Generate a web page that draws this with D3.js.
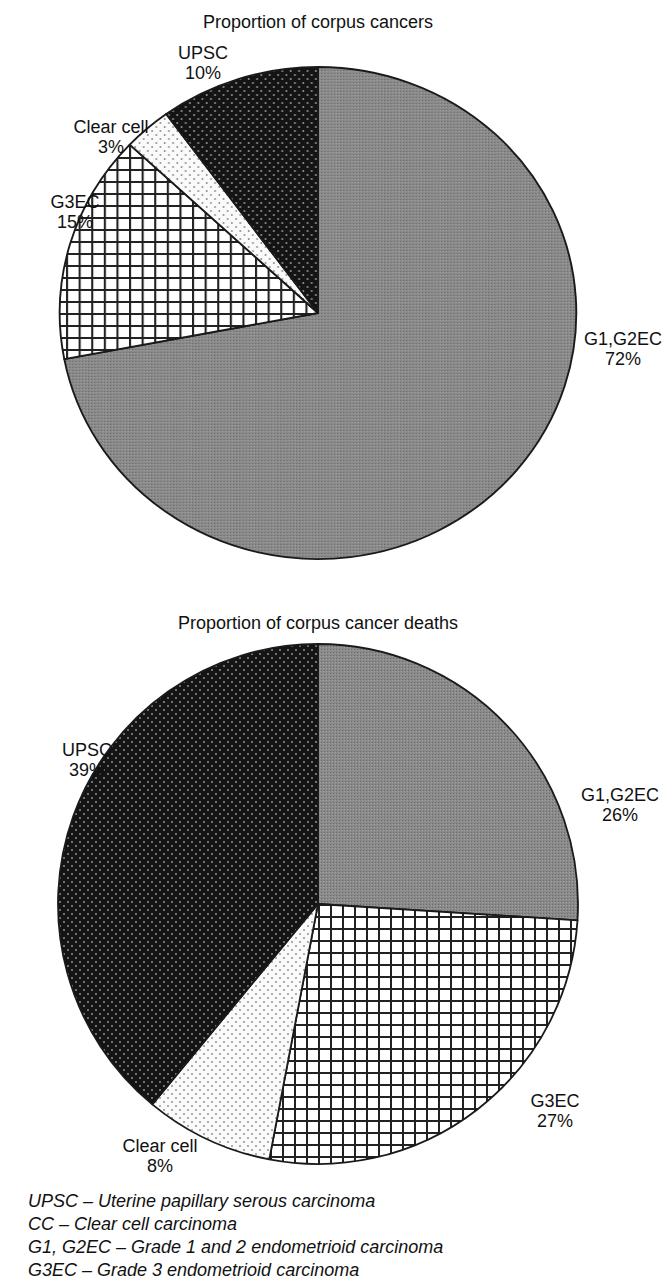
<!DOCTYPE html>
<html>
<head>
<meta charset="utf-8">
<script src="https://cdn.jsdelivr.net/npm/d3@7"></script>
<style>
  body { margin: 0; background: #fff; }
  text { font-family: Arial, "Liberation Sans", Helvetica, sans-serif; fill: #111; }
</style>
</head>
<body>
<main></main>
<script>
const width = 664;
const height = 1283;

// data
const categories = ["G1,G2EC", "G3EC", "Clear cell", "UPSC"];
const casesPct = [72, 15, 3, 10];
const deathsPct = [26, 27, 8, 39];
const titles = ["Proportion of corpus cancers", "Proportion of corpus cancer deaths"];
const notes = [
    "UPSC – Uterine papillary serous carcinoma",
    "CC – Clear cell carcinoma",
    "G1, G2EC – Grade 1 and 2 endometrioid carcinoma",
    "G3EC – Grade 3 endometrioid carcinoma"
];

// layout (label anchors relative to pie centre, first-line baseline)
const charts = [
    { values: casesPct, cx: 318, cy: 313, r: 246, sx: 1.05, titleY: 28,
      labels: [[305, 32], [-243, -105], [-207, -180], [-115, -254]] },
    { values: deathsPct, cx: 318, cy: 904, r: 260, sx: 1.0, titleY: 629,
      labels: [[302, -103], [237, 203], [-158, 248], [-231, -148]] }
];

const svg = d3.select("main").append("svg")
    .attr("width", width)
    .attr("height", height);

const defs = svg.append("defs");

const createPatterns = () => {
    // fine grey dither
    const g = defs.append("pattern").attr("id", "p-grey")
        .attr("patternUnits", "userSpaceOnUse").attr("width", 3).attr("height", 3);
    g.append("rect").attr("width", 3).attr("height", 3).attr("fill", "#8a8a8a");
    g.append("rect").attr("x", 0).attr("y", 0).attr("width", 1).attr("height", 1).attr("fill", "#6a6a6a");
    g.append("rect").attr("x", 2).attr("y", 1).attr("width", 1).attr("height", 1).attr("fill", "#a0a0a0");

    // grid
    const grid = defs.append("pattern").attr("id", "p-grid")
        .attr("patternUnits", "userSpaceOnUse").attr("width", 12).attr("height", 12);
    grid.append("rect").attr("width", 12).attr("height", 12).attr("fill", "#fff");
    grid.append("rect").attr("x", 0).attr("y", 0).attr("width", 2).attr("height", 12).attr("fill", "#222");
    grid.append("rect").attr("x", 0).attr("y", 0).attr("width", 12).attr("height", 2).attr("fill", "#222");

    // light dots
    const ld = defs.append("pattern").attr("id", "p-light")
        .attr("patternUnits", "userSpaceOnUse").attr("width", 8).attr("height", 8);
    ld.append("rect").attr("width", 8).attr("height", 8).attr("fill", "#fafafa");
    ld.append("circle").attr("cx", 2).attr("cy", 2).attr("r", 0.9).attr("fill", "#888");
    ld.append("circle").attr("cx", 6).attr("cy", 6).attr("r", 0.9).attr("fill", "#888");

    // dark dots
    const dd = defs.append("pattern").attr("id", "p-dark")
        .attr("patternUnits", "userSpaceOnUse").attr("width", 8).attr("height", 8);
    dd.append("rect").attr("width", 8).attr("height", 8).attr("fill", "#141414");
    dd.append("circle").attr("cx", 2).attr("cy", 2).attr("r", 1).attr("fill", "#909090");
    dd.append("circle").attr("cx", 6).attr("cy", 6).attr("r", 1).attr("fill", "#909090");
};

const fills = ["url(#p-grey)", "url(#p-grid)", "url(#p-light)", "url(#p-dark)"];

const drawPie = (chart, idx) => {
    svg.append("text")
       .attr("x", chart.cx)
       .attr("y", chart.titleY)
       .attr("text-anchor", "middle")
       .style("font-size", "18px")
       .text(titles[idx]);

    const pie = d3.pie().sort(null).value((d) => d);
    const arc = d3.arc().innerRadius(0).outerRadius(chart.r);

    const g = svg.append("g")
        .attr("transform", `translate(${chart.cx},${chart.cy}) scale(${chart.sx},1)`);

    g.selectAll("path")
     .data(pie(chart.values))
     .enter()
     .append("path")
     .attr("d", arc)
     .attr("fill", (d, i) => fills[i])
     .attr("stroke", "#1a1a1a")
     .attr("stroke-width", 1.8)
     .attr("stroke-linejoin", "round");

    const lab = svg.append("g")
        .attr("transform", `translate(${chart.cx},${chart.cy})`);
    chart.values.forEach((v, i) => {
        const t = lab.append("text")
            .attr("text-anchor", "middle")
            .style("font-size", "18px");
        t.append("tspan").attr("x", chart.labels[i][0]).attr("y", chart.labels[i][1]).text(categories[i]);
        t.append("tspan").attr("x", chart.labels[i][0]).attr("y", chart.labels[i][1] + 20).text(v + "%");
    });
};

const drawNotes = () => {
    svg.selectAll("text.note")
       .data(notes)
       .enter()
       .append("text")
       .attr("class", "note")
       .attr("x", 28)
       .attr("y", (d, i) => 1207 + i * 23)
       .style("font-size", "18px")
       .style("font-style", "italic")
       .text((d) => d);
};

createPatterns();
charts.forEach(drawPie);
drawNotes();
</script>
</body>
</html>
